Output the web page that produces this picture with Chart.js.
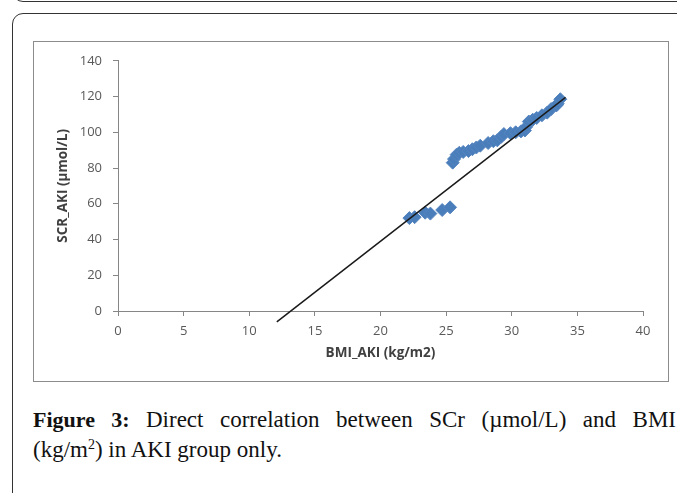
<!DOCTYPE html>
<html>
<head>
<meta charset="utf-8">
<script src="https://cdn.jsdelivr.net/npm/chart.js@4.4.1/dist/chart.umd.min.js"></script>
<style>
  html, body { margin: 0; padding: 0; background: #fff; width: 677px; height: 493px; overflow: hidden; position: relative; }
  .prevbox { position: absolute; left: 12px; top: -40px; width: 720px; height: 40px; border: 1.5px solid #333; border-radius: 11px; }
  .box { position: absolute; left: 12px; top: 13px; width: 720px; height: 600px; border: 1.5px solid #333; border-radius: 11px; }
  .frame { position: absolute; left: 33px; top: 41px; width: 634px; height: 339px; border: 1px solid #8c8c8c; }
  .frame canvas { position: absolute; left: 0; top: 0; }
  .caption { position: absolute; left: 33px; top: 405px; width: 643px; font-family: "Liberation Serif", serif; font-size: 23px; line-height: 30px; color: #111; }
  .l1 { text-align: justify; text-align-last: justify; white-space: nowrap; }
  b { font-weight: bold; font-size: 22px; }
  sup { font-size: 14px; line-height: 0; vertical-align: 8px; }
</style>
</head>
<body>
<div class="prevbox"></div>
<div class="box"></div>
<div class="frame"><canvas id="c" width="634" height="339"></canvas></div>
<div class="caption">
  <div class="l1"><b>Figure 3:</b> Direct correlation between SCr (µmol/L) and BMI</div>
  <div>(kg/m<sup>2</sup>) in AKI group only.</div>
</div>
<script>
// Data
const bmiAKI = [22.2, 22.6, 23.4, 23.8, 24.7, 25.3, 25.5, 25.6, 25.8, 26.0, 26.3, 26.7, 27.0, 27.3, 27.6, 28.2, 28.6, 28.9, 29.2, 29.4, 29.9, 30.3, 30.7, 31.0, 31.1, 31.3, 31.6, 31.9, 32.3, 32.7, 33.0, 33.4, 33.5, 33.7];
const scrAKI = [52, 52.5, 55, 54.5, 56.5, 58, 83, 85, 87.5, 88.5, 89, 89.5, 90.5, 91.5, 92.5, 94, 95, 95.5, 97.5, 99, 99.5, 100, 100.5, 101, 103, 106, 107, 108, 109.5, 111, 113, 115, 116, 118.5];
const trendX = [12.1, 34.1];
const trendY = [-6.1, 119.5];
const xTicks = [0, 5, 10, 15, 20, 25, 30, 35, 40];
const yTicks = [0, 20, 40, 60, 80, 100, 120, 140];
const xTitle = 'BMI_AKI (kg/m2)';
const yTitle = 'SCR_AKI (µmol/L)';

const points = bmiAKI.map((x, i) => ({ x: x, y: scrAKI[i] }));
const trend = trendX.map((x, i) => ({ x: x, y: trendY[i] }));

const tickFont = { family: 'Open Sans', size: 13, lineHeight: 1.2 };
const titleFont = { family: 'Open Sans', size: 13.5, weight: 'bold', lineHeight: 1.2 };

new Chart(document.getElementById('c'), {
  type: 'scatter',
  data: {
    datasets: [
      {
        type: 'line', label: 'trend', data: trend, borderColor: '#1a1a1a', borderWidth: 1.5,
        pointRadius: 0, fill: false, clip: false, showLine: true
      },
      {
        label: 'SCR_AKI', data: points, pointStyle: 'rectRot', pointRadius: 6.5,
        backgroundColor: '#4a7ebb', borderColor: '#5585c0', borderWidth: 1
      }
    ]
  },
  options: {
    responsive: false,
    animation: false,
    layout: { padding: { top: 16, right: 25, left: 0, bottom: 0 } },
    plugins: { legend: { display: false }, tooltip: { enabled: false } },
    scales: {
      x: {
        type: 'linear', min: 0, max: 40,
        afterBuildTicks: s => { s.ticks = xTicks.map(v => ({ value: v })); },
        afterFit: s => { s.height = 70; },
        grid: { drawOnChartArea: false, drawTicks: true, tickLength: 5, color: '#868686' },
        border: { color: '#868686', width: 1 },
        ticks: { color: '#595959', font: tickFont, padding: 7, maxRotation: 0 },
        title: { display: true, text: xTitle, color: '#404040', font: titleFont, padding: { top: 0, bottom: 20 } }
      },
      y: {
        type: 'linear', min: 0, max: 140,
        afterBuildTicks: s => { s.ticks = yTicks.map(v => ({ value: v })); },
        afterFit: s => { s.width = 84; },
        grid: { drawOnChartArea: false, drawTicks: true, tickLength: 5, color: '#868686' },
        border: { color: '#868686', width: 1 },
        ticks: { color: '#595959', font: tickFont, padding: 11 },
        title: { display: true, text: yTitle, color: '#404040', font: titleFont, padding: { top: 21, bottom: 0 } }
      }
    }
  }
});
</script>
</body>
</html>
